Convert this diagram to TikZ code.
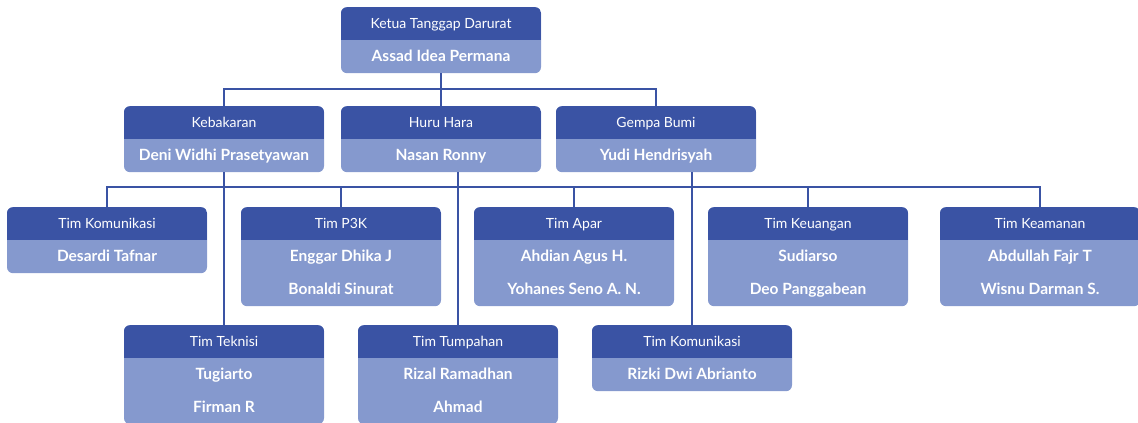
\documentclass[tikz,border=0pt]{standalone}
\usepackage{fontspec}
\setmainfont{Lato}
\usepackage{tikz}
\usetikzlibrary{positioning}
\usepackage{xcolor}
\definecolor{hdrblue}{HTML}{3A53A4}
\definecolor{bodyblue}{HTML}{8599CE}
\newcommand{\rowstrut}{\rule[-12pt]{0pt}{33pt}}
\newcommand{\nm}[1]{\\\rowstrut{\bfseries\fontsize{15.5}{33}\selectfont #1}}

\begin{document}
\begin{tikzpicture}[x=1pt, y=-1pt,
  tim/.style={fill=bodyblue, rounded corners=6pt, minimum width=200pt,
              inner sep=0pt, anchor=north, align=center, text=white,
              font=\fontsize{14}{33}\selectfont,
              path picture={\fill[hdrblue, sharp corners]
                (path picture bounding box.north west) rectangle
                ([yshift=-33pt]path picture bounding box.north east);}},
  link/.style={draw=hdrblue, line width=2pt}
]
\useasboundingbox (0,0) rectangle (1138,423);

%% Ketua and the three units
\node[tim] (ketua)     at (441,7)   {\rowstrut Ketua Tanggap Darurat\nm{Assad Idea Permana}};
\node[tim] (kebakaran) at (224,106) {\rowstrut Kebakaran\nm{Deni Widhi Prasetyawan}};
\node[tim] (huruhara)  at (441,106) {\rowstrut Huru Hara\nm{Nasan Ronny}};
\node[tim] (gempa)     at (656,106) {\rowstrut Gempa Bumi\nm{Yudi Hendrisyah}};

%% Teams, first row
\node[tim] (komunikasi) at (107,207)  {\rowstrut Tim Komunikasi\nm{Desardi Tafnar}};
\node[tim] (ptigak)     at (341,207)  {\rowstrut Tim P3K\nm{Enggar Dhika J}\nm{Bonaldi Sinurat}};
\node[tim] (apar)       at (574,207)  {\rowstrut Tim Apar\nm{Ahdian Agus H.}\nm{Yohanes Seno A. N.}};
\node[tim] (keuangan)   at (808,207)  {\rowstrut Tim Keuangan\nm{Sudiarso}\nm{Deo Panggabean}};
\node[tim] (keamanan)   at (1040,207) {\rowstrut Tim Keamanan\nm{Abdullah Fajr T}\nm{Wisnu Darman S.}};

%% Teams, second row
\node[tim] (teknisi)     at (224,325) {\rowstrut Tim Teknisi\nm{Tugiarto}\nm{Firman R}};
\node[tim] (tumpahan)    at (458,325) {\rowstrut Tim Tumpahan\nm{Rizal Ramadhan}\nm{Ahmad}};
\node[tim] (komunikasib) at (692,325) {\rowstrut Tim Komunikasi\nm{Rizki Dwi Abrianto}};

%% Lines
\coordinate (bus2) at (441,89);
\coordinate (bus3) at (574,187);
\draw[link] (ketua.south) -- (huruhara.north);
\draw[link] (kebakaran.north) |- (bus2) -| (gempa.north);
\draw[link] (komunikasi.north) |- (bus3) -| (keamanan.north);
\foreach \t in {ptigak,apar,keuangan}
  \draw[link] (\t.north) -- (\t.north |- bus3);
\draw[link] (kebakaran.south) -- (teknisi.north);
\draw[link] (tumpahan.north) -- (tumpahan.north |- huruhara.south);
\draw[link] (komunikasib.north) -- (komunikasib.north |- gempa.south);

\end{tikzpicture}
\end{document}
